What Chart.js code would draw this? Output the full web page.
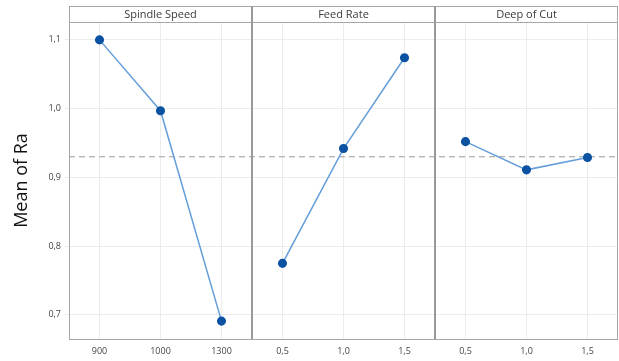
<!DOCTYPE html>
<html>
<head>
<meta charset="utf-8">
<script src="https://cdn.jsdelivr.net/npm/chart.js@4.4.0/dist/chart.umd.min.js"></script>
<style>
html, body { margin: 0; padding: 0; background: #fff; }
</style>
</head>
<body>
<canvas id="chart" width="619" height="361"></canvas>
<script>
let factors = ['Spindle Speed', 'Feed Rate', 'Deep of Cut']
let spindleLevels = ['900', '1000', '1300']
let spindleMeans = [1.100, 0.997, 0.691]
let feedLevels = ['0,5', '1,0', '1,5']
let feedMeans = [0.775, 0.942, 1.074]
let depthLevels = ['0,5', '1,0', '1,5']
let depthMeans = [0.952, 0.911, 0.929]
let grandMean = 0.930
let yTicks = [0.7, 0.8, 0.9, 1.0, 1.1]

let levelLabels = spindleLevels.concat(feedLevels, depthLevels)
let panelMeans = [spindleMeans, feedMeans, depthMeans]

let lineColor = '#649ed9'
let pointColor = '#0b52a3'
let frameColor = '#a6a6a6'
let fontFamily = "'Open Sans', 'Noto Sans', sans-serif"

let datasets = []
for (let p = 0; p < panelMeans.length; p++) {
	let pts = []
	for (let i = 0; i < panelMeans[p].length; i++) {
		pts.push({ x: p * 3 + i + 0.5, y: panelMeans[p][i] })
	}
	datasets.push({
		data: pts,
		borderColor: lineColor,
		borderWidth: 1.5,
		pointRadius: 3.8,
		pointBackgroundColor: pointColor,
		pointBorderColor: pointColor,
	})
}
datasets.push({
	data: [{ x: 0, y: grandMean }, { x: 9, y: grandMean }],
	borderColor: '#9a9a9a',
	borderWidth: 1,
	borderDash: [6, 4],
	pointRadius: 0,
})

// panel frames, header strip and dividers
let panelPlugin = {
	id: 'panels',
	beforeDatasetsDraw(chart) {
		let ctx = chart.ctx
		let area = chart.chartArea
		let xs = chart.scales.x
		let headTop = area.top - 16
		ctx.save()
		ctx.strokeStyle = frameColor
		ctx.lineWidth = 1
		ctx.strokeRect(area.left + 0.5, headTop + 0.5, area.right - area.left - 1, area.bottom - headTop)
		ctx.beginPath()
		ctx.moveTo(area.left, area.top + 0.5)
		ctx.lineTo(area.right, area.top + 0.5)
		ctx.stroke()
		ctx.strokeStyle = '#999'
		ctx.lineWidth = 2
		for (let p = 1; p < factors.length; p++) {
			let px = Math.round(xs.getPixelForValue(p * 3))
			ctx.beginPath()
			ctx.moveTo(px, headTop)
			ctx.lineTo(px, area.bottom)
			ctx.stroke()
		}
		ctx.fillStyle = '#3a3a3a'
		ctx.font = '11px ' + fontFamily
		ctx.textAlign = 'center'
		ctx.textBaseline = 'middle'
		for (let p = 0; p < factors.length; p++) {
			let cx = xs.getPixelForValue(p * 3 + 1.5)
			ctx.fillText(factors[p], cx, headTop + 8.5)
		}
		ctx.restore()
	},
}

new Chart(document.getElementById('chart'), {
	type: 'line',
	data: { datasets: datasets },
	options: {
		responsive: false,
		animation: false,
		layout: { autoPadding: false, padding: { top: 22, right: 1, left: 0, bottom: 0 } },
		plugins: {
			legend: { display: false },
			tooltip: { enabled: false },
		},
		scales: {
			x: {
				type: 'linear',
				min: 0,
				max: 9,
				border: { display: false },
				grid: { color: '#ececec', drawTicks: false },
				afterBuildTicks: function (scale) {
					scale.ticks = levelLabels.map(function (l, i) {
						return { value: i + 0.5 }
					})
				},
				afterFit: function (scale) {
					scale.height = 22
					scale.paddingLeft = 0
					scale.paddingRight = 0
				},
				ticks: {
					padding: 7,
					color: '#444',
					font: { family: fontFamily, size: 9 },
					maxRotation: 0,
					autoSkip: false,
					callback: function (v, i) {
						return levelLabels[i]
					},
				},
			},
			y: {
				min: 0.665,
				max: 1.126,
				border: { display: false },
				grid: { color: '#ececec', tickLength: 4 },
				afterBuildTicks: function (scale) {
					scale.ticks = yTicks.map(function (v) {
						return { value: v }
					})
				},
				afterFit: function (scale) {
					scale.width = 69
				},
				ticks: {
					padding: 4,
					color: '#444',
					font: { family: fontFamily, size: 9 },
					callback: function (v) {
						return v.toFixed(1).replace('.', ',')
					},
				},
				title: {
					display: true,
					text: 'Mean of Ra',
					color: '#111',
					font: { family: fontFamily, size: 18 },
					padding: { top: 11, bottom: 0 },
				},
			},
		},
	},
	plugins: [panelPlugin],
})
</script>
</body>
</html>
